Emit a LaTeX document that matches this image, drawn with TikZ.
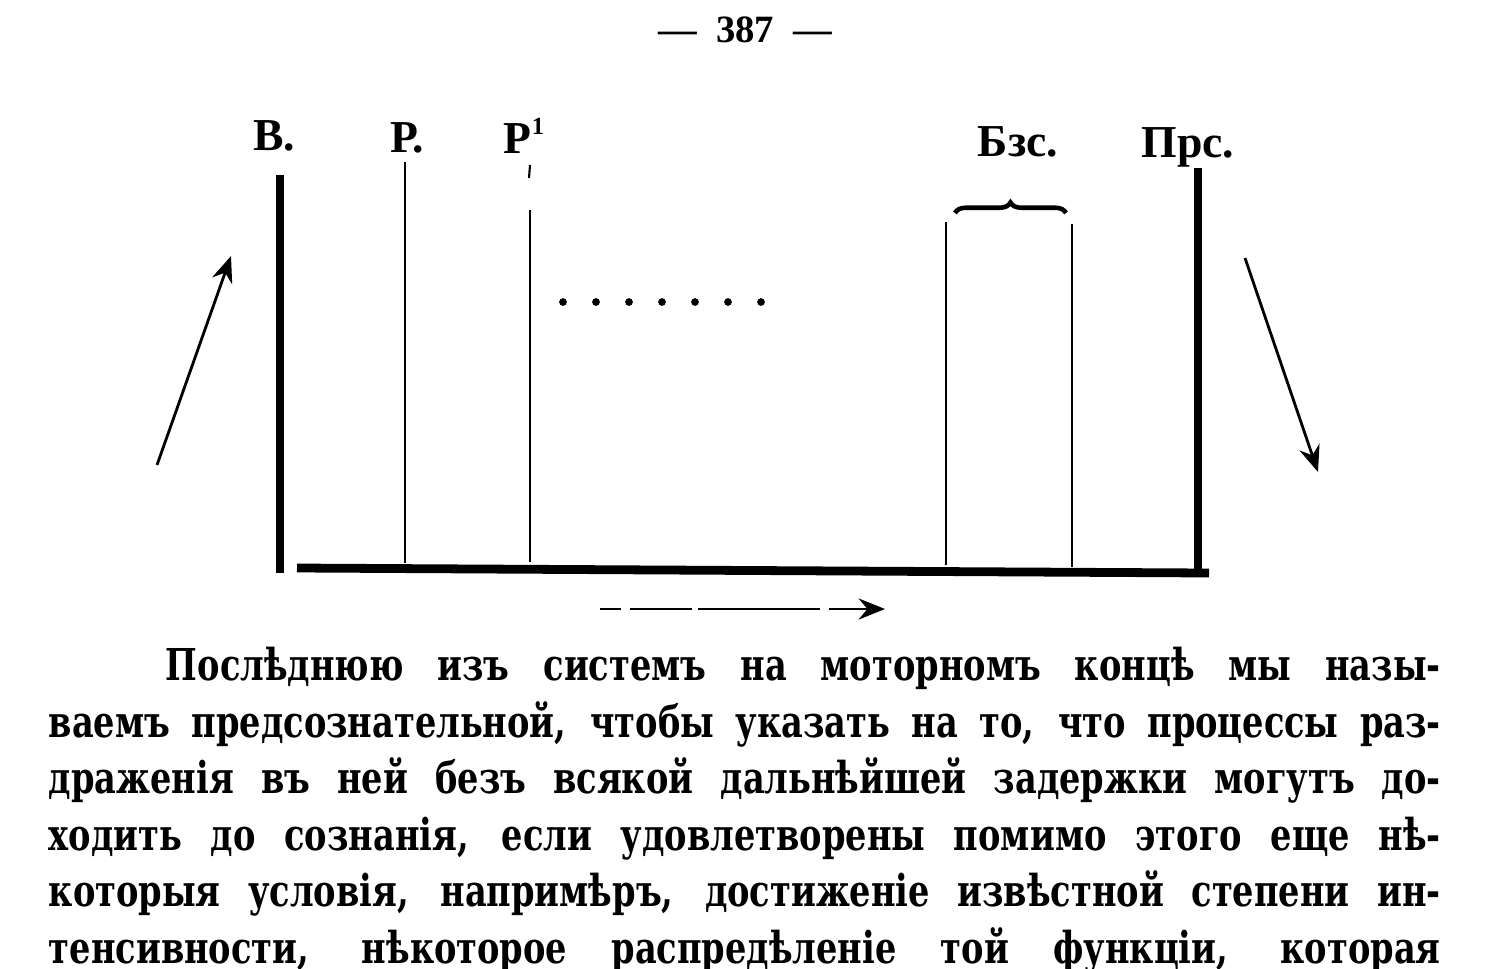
\documentclass[tikz,border=0pt]{standalone}
\usepackage{fontspec}
\setmainfont{Liberation Serif}
\newfontfamily\bodyfont[FakeStretch=0.85]{DejaVu Serif Condensed}
\usetikzlibrary{%
  arrows.meta,%
  decorations.pathreplacing,% wg. brace
  positioning%
}

\begin{document}
\begin{tikzpicture}
  [
  x=0.02cm, y=-0.02cm,
  line width=1pt,
  draw=black, >={Stealth[length=15pt,width=12pt,inset=5pt]},
  wall/.style={line width=4.6pt},
  layer/.style={line width=1.2pt},
  flow/.style={->, line width=1.6pt},
  tag/.style={font=\fontsize{26}{30}\selectfont\bfseries, inner sep=0pt, anchor=base},
  textline/.style={font=\bodyfont\bfseries\fontsize{25}{32}\selectfont, inner sep=0pt, anchor=base west},
  ]
  \useasboundingbox (0,0) rectangle (1489,968);

  \node[font=\fontsize{22}{26}\selectfont\bfseries, anchor=base] (page) at (745,42) {---\hspace{0.5em}387\hspace{0.5em}---};

  % labels
  \node[tag] (v) at (274,150) {В.};
  \node[tag] (r) at (407,152) {Р.};
  \node[tag] (r1) at (524,153) {Р\raisebox{0.4em}{\fontsize{14}{15}\selectfont 1}};
  \node[tag] (bzs) at (1018,156) {Бзс.};
  \node[tag] (prs) at (1188,157) {Прс.};

  % walls and floor
  \coordinate (vtop) at (280,175);
  \coordinate (vbot) at (280,573);
  \coordinate (prstop) at (1198,168);
  \coordinate (prsbot) at (1198,574);
  \coordinate (floorL) at (297,568);
  \coordinate (floorR) at (1209,573);
  \draw[wall] (vtop) -- (vbot);
  \draw[wall] (prstop) -- (prsbot);
  \draw[wall, line width=5pt] (floorL) -- (floorR);

  % inner systems
  \coordinate (rtop) at (405,162);
  \coordinate (rbot) at (405,563);
  \coordinate (r1tick) at (530,165);
  \coordinate (r1tickb) at (529,178);
  \coordinate (r1top) at (530,210);
  \coordinate (r1bot) at (530,562);
  \coordinate (bzsL) at (946,222);
  \coordinate (bzsLb) at (946,565);
  \coordinate (bzsR) at (1072,224);
  \coordinate (bzsRb) at (1072,567);
  \draw[layer] (rtop) -- (rbot);
  \draw[layer] (r1tick) -- (r1tickb);
  \draw[layer] (r1top) -- (r1bot);
  \draw[layer] (bzsL) -- (bzsLb);
  \draw[layer] (bzsR) -- (bzsRb);
  \draw[line width=2.6pt, decorate, decoration={brace, amplitude=6pt}] (955,213) -- (1066,213);

  \foreach \i in {0,...,6}
    \fill (563+\i*33,302) circle (2.2pt);

  % arrows
  \coordinate (inS) at (157,465);
  \coordinate (inE) at (231,256);
  \coordinate (outS) at (1245,258);
  \coordinate (outE) at (1318,472);
  \coordinate (dirS) at (600,609);
  \coordinate (dirE) at (885,609);
  \draw[flow] (inS) -- (inE);
  \draw[flow] (outS) -- (outE);
  \draw[flow, dash pattern=on 0.42cm off 0.18cm on 1.24cm off 0.12cm on 2.44cm off 0.18cm on 3cm] (dirS) -- (dirE);

  % text
  \node[textline] (par1) at (165,680) {\makebox[25.5cm][s]{Послѣднюю изъ системъ на моторномъ концѣ мы назы-}};
  \node[textline] (par2) at (48,737) {\makebox[27.84cm][s]{ваемъ предсознательной, чтобы указать на то, что процессы раз-}};
  \node[textline] (par3) at (48,793) {\makebox[27.84cm][s]{драженія въ ней безъ всякой дальнѣйшей задержки могутъ до-}};
  \node[textline] (par4) at (48,850) {\makebox[27.84cm][s]{ходить до сознанія, если удовлетворены помимо этого еще нѣ-}};
  \node[textline] (par5) at (48,906) {\makebox[27.84cm][s]{которыя условія, напримѣръ, достиженіе извѣстной степени ин-}};
  \node[textline] (par6) at (48,963) {\makebox[27.84cm][s]{тенсивности, нѣкоторое распредѣленіе той функціи, которая}};
\end{tikzpicture}
\end{document}
